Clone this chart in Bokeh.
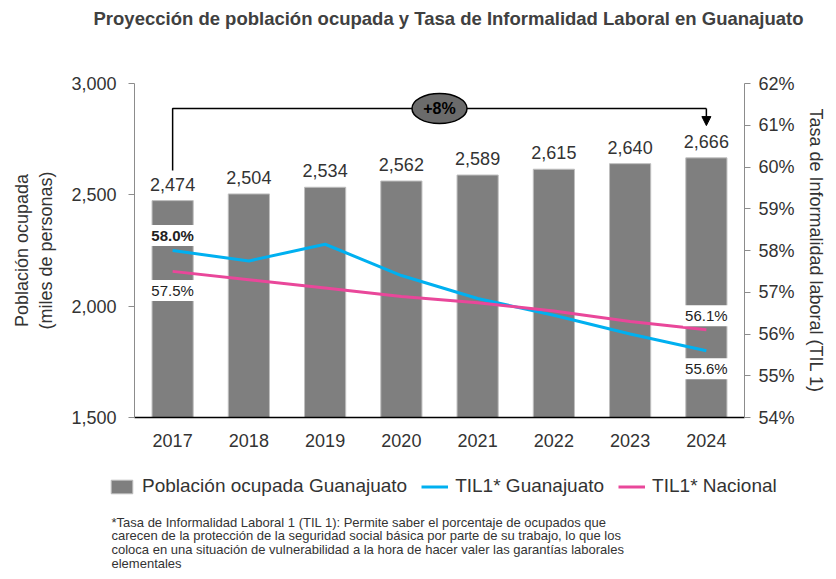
from bokeh.plotting import figure
from bokeh.layouts import column
from bokeh.core.properties import value
from bokeh.models import (ColumnDataSource, Range1d, LinearAxis, FixedTicker,
                          NumeralTickFormatter, PrintfTickFormatter, LabelSet,
                          Label, Legend, LegendItem, Arrow, NormalHead)
from bokeh.embed import file_html
from bokeh.resources import INLINE

# ---------------- data ----------------
years = ["2017", "2018", "2019", "2020", "2021", "2022", "2023", "2024"]
poblacion = [2474, 2504, 2534, 2562, 2589, 2615, 2640, 2666]
til_guanajuato = [58.0, 57.75, 58.15, 57.4, 56.85, 56.45, 56.0, 55.6]
til_nacional = [57.5, 57.3, 57.1, 56.9, 56.75, 56.55, 56.3, 56.1]
left_ticks = [1500, 2000, 2500, 3000]
right_ticks = [54, 55, 56, 57, 58, 59, 60, 61, 62]

title_text = "Proyección de población ocupada y Tasa de Informalidad Laboral en Guanajuato"
footnote = ("*Tasa de Informalidad Laboral 1 (TIL 1): Permite saber el porcentaje de ocupados que\n"
            "carecen de la protección de la seguridad social básica por parte de su trabajo, lo que los\n"
            "coloca en una situación de vulnerabilidad a la hora de hacer valer las garantías laborales\n"
            "elementales")
legend_labels = ["Población ocupada Guanajuato", "TIL1* Guanajuato", "TIL1* Nacional"]

# ---------------- style ----------------
FONT = "Liberation Sans"
TXT = "#333333"
GRAY_AX = "#8c8c8c"
BAR_FILL, BAR_LINE = "#7f7f7f", "#bfbfbf"
BLUE, PINK = "#00b0f0", "#e9479a"

W = 828
H_TOP, H_MAIN, H_BOT = 40, 420, 111
FL, FR = 134, 744               # frame left/right (px)
FT, FB = 83 - H_TOP, 417 - H_TOP  # frame top/bottom inside main figure

def blank(h):
    f = figure(width=W, height=h, x_range=Range1d(0, W), y_range=Range1d(h, 0),
               output_backend="svg", toolbar_location=None,
               x_axis_location=None, y_axis_location=None,
               min_border=0, min_border_left=0, min_border_right=0,
               min_border_top=0, min_border_bottom=0, frame_align=False)
    f.xgrid.visible = False
    f.ygrid.visible = False
    f.outline_line_color = None
    return f

# ---------------- title ----------------
top = blank(H_TOP)
top.add_layout(Label(x=448, y=18, text=title_text, text_align="center",
                     text_baseline="middle", text_font=FONT, text_font_size="18.5px",
                     text_font_style="bold", text_color="#404040"))

# ---------------- main chart ----------------
YMIN, YMAX = left_ticks[0], left_ticks[-1]
PMIN, PMAX = right_ticks[0], right_ticks[-1]
XMIN, XMAX = -0.5, len(years) - 0.5

p = figure(width=W, height=H_MAIN, x_range=Range1d(XMIN, XMAX), y_range=Range1d(YMIN, YMAX),
           output_backend="svg", toolbar_location=None, frame_align=False,
           min_border_left=FL, min_border_right=W - FR,
           min_border_top=FT, min_border_bottom=H_MAIN - FB)
p.extra_y_ranges = {"pct": Range1d(PMIN, PMAX)}
p.xgrid.visible = False
p.ygrid.visible = False
p.outline_line_color = None

xs = list(range(len(years)))
src = ColumnDataSource(dict(x=xs, pob=poblacion,
                            pob_lbl=[f"{v:,}" for v in poblacion],
                            gto=til_guanajuato, nac=til_nacional))

xa = p.xaxis[0]
xa.ticker = FixedTicker(ticks=xs)
xa.major_label_overrides = {i: y for i, y in enumerate(years)}
xa.major_tick_in = 0
xa.major_tick_out = 0
xa.minor_tick_line_color = None
xa.axis_line_color = "black"
xa.axis_line_width = 1.5
xa.major_label_text_font = FONT
xa.major_label_text_font_size = "18px"
xa.major_label_text_color = TXT
xa.major_label_standoff = 16

ya = p.yaxis[0]
ya.ticker = FixedTicker(ticks=left_ticks)
ya.formatter = NumeralTickFormatter(format="0,0")
ya.axis_line_color = GRAY_AX
ya.major_tick_line_color = GRAY_AX
ya.major_tick_in = 0
ya.major_tick_out = 6
ya.minor_tick_line_color = None
ya.major_label_text_font = FONT
ya.major_label_text_font_size = "18px"
ya.major_label_text_color = TXT
ya.major_label_standoff = 12
ya.axis_label = "Población ocupada\n(miles de personas)"
ya.axis_label_text_font = FONT
ya.axis_label_text_font_size = "18px"
ya.axis_label_text_font_style = "normal"
ya.axis_label_text_color = TXT
ya.axis_label_standoff = 12

ra = LinearAxis(y_range_name="pct", ticker=FixedTicker(ticks=right_ticks),
                formatter=PrintfTickFormatter(format="%d%%"))
ra.axis_line_color = GRAY_AX
ra.major_tick_line_color = GRAY_AX
ra.major_tick_in = 0
ra.major_tick_out = 6
ra.minor_tick_line_color = None
ra.major_label_text_font = FONT
ra.major_label_text_font_size = "18px"
ra.major_label_text_color = TXT
ra.major_label_standoff = 8
ra.axis_label = "Tasa de Informalidad laboral (TIL 1)"
ra.axis_label_text_font = FONT
ra.axis_label_text_font_size = "18px"
ra.axis_label_text_font_style = "normal"
ra.axis_label_text_color = TXT
ra.axis_label_standoff = 8
p.add_layout(ra, "right")

p.vbar(x="x", top="pob", bottom=YMIN, width=0.54, source=src,
       fill_color=BAR_FILL, line_color=BAR_LINE, line_width=1)

p.add_layout(LabelSet(x="x", y="pob", text="pob_lbl", source=src, y_offset=10,
                      text_align="center", text_baseline="bottom",
                      text_font=value(FONT), text_font_size=value("18px"),
                      text_color=TXT))

p.line("x", "gto", source=src, y_range_name="pct", line_color=BLUE, line_width=3)
p.line("x", "nac", source=src, y_range_name="pct", line_color=PINK, line_width=3)

pct_labels = [
    (0, til_guanajuato[0], 15, "bold"),
    (0, til_nacional[0], -19, "normal"),
    (len(years) - 1, til_nacional[-1], 14, "normal"),
    (len(years) - 1, til_guanajuato[-1], -18, "normal"),
]
for xi, v, off, style in pct_labels:
    p.add_layout(Label(x=xi, y=v, y_range_name="pct", text=f"{v:.1f}%", y_offset=off,
                       text_align="center", text_baseline="middle",
                       text_font=FONT, text_font_size="15px", text_font_style=style,
                       text_color="#222222", background_fill_color="white",
                       padding=2))

growth = (poblacion[-1] / poblacion[0] - 1) * 100
bracket_top = 2888
p.line(x=[xs[0], xs[0], xs[-1]], y=[poblacion[0] + 135, bracket_top, bracket_top],
       line_color="black", line_width=1.5)
p.add_layout(Arrow(end=NormalHead(size=9, fill_color="black", line_color="black"),
                   x_start=xs[-1], y_start=bracket_top, x_end=xs[-1], y_end=poblacion[-1] + 145,
                   line_color="black", line_width=1.5))
mid = (xs[0] + xs[-1]) / 2
p.ellipse(x=[mid], y=[bracket_top], width=55, height=30, width_units="screen",
          height_units="screen", fill_color="#6b6b6b", line_color="black", line_width=1.5)
p.add_layout(Label(x=mid, y=bracket_top, text=f"+{growth:.0f}%", text_align="center",
                   text_baseline="middle", text_font=FONT, text_font_size="16px",
                   text_font_style="bold", text_color="black"))

# ---------------- legend + footnote ----------------
bot = blank(H_BOT)
r_bar = bot.vbar(x=xs, top=poblacion, width=0.54, fill_color=BAR_FILL,
                 line_color=BAR_LINE, visible=False)
r_gto = bot.line(x=xs, y=til_guanajuato, line_color=BLUE, line_width=3, visible=False)
r_nac = bot.line(x=xs, y=til_nacional, line_color=PINK, line_width=3, visible=False)
legend = Legend(items=[LegendItem(label=legend_labels[0], renderers=[r_bar]),
                       LegendItem(label=legend_labels[1], renderers=[r_gto]),
                       LegendItem(label=legend_labels[2], renderers=[r_nac])],
                location=(108, 74), orientation="horizontal",
                glyph_width=27, glyph_height=17, label_standoff=7, spacing=14,
                padding=0, margin=0, border_line_color=None, background_fill_alpha=0,
                label_text_font=FONT, label_text_font_size="19px", label_text_color=TXT)
bot.add_layout(legend, "center")
bot.add_layout(Label(x=111, y=514 - H_TOP - H_MAIN, text=footnote, text_align="left",
                     text_baseline="top", text_font=FONT, text_font_size="13px",
                     text_line_height=0.93, text_color=TXT))

layout = column(top, p, bot, spacing=0)
open("out.html", "w").write(file_html(layout, INLINE))
